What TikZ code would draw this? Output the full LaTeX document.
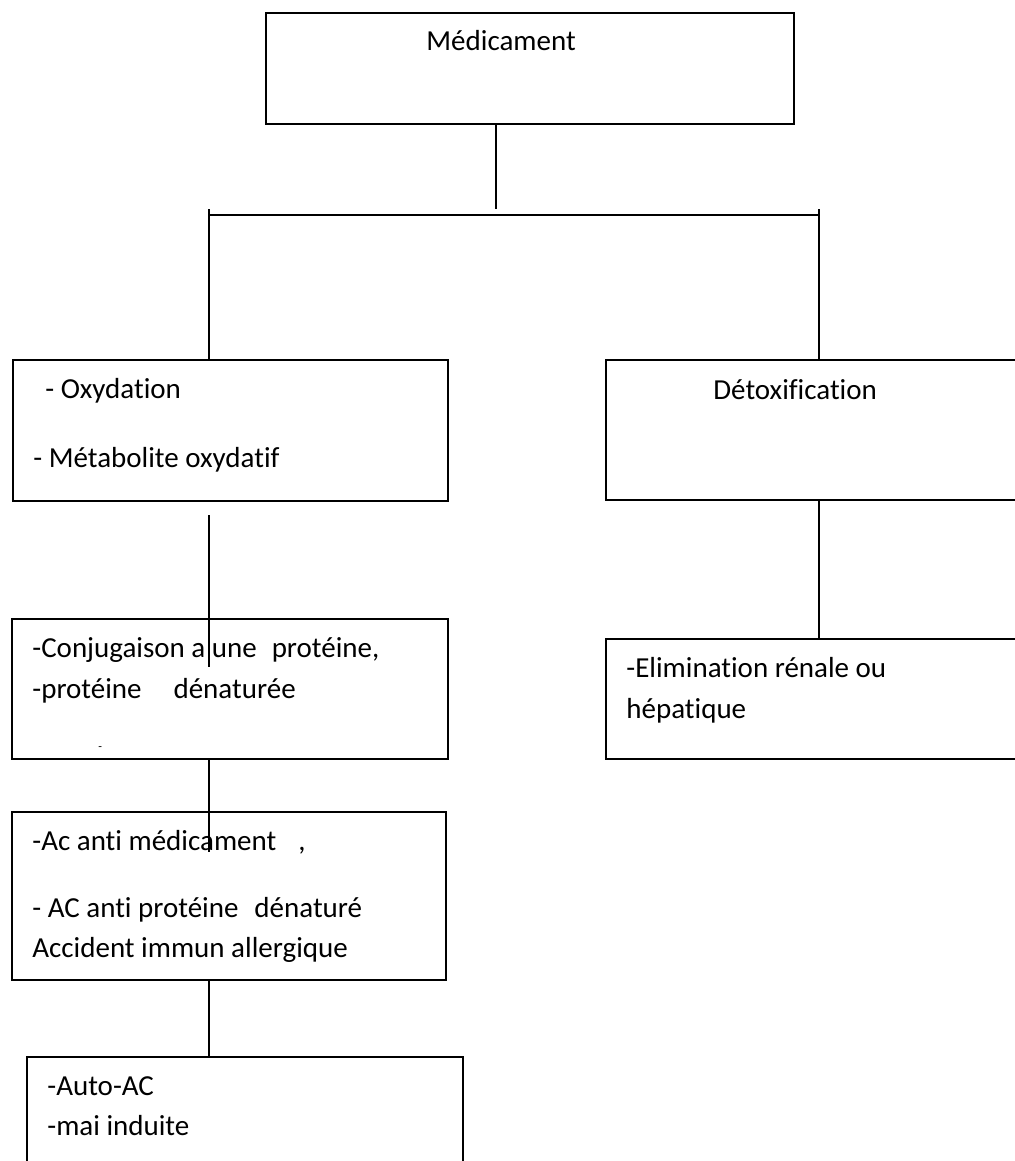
\documentclass[tikz,border=0pt]{standalone}
\usepackage{fontspec}
\setmainfont{Carlito}[Ligatures=NoCommon]
\usepackage{tikz}
\usetikzlibrary{positioning,calc}
\tikzset{
  box/.style={draw=black,line width=1.1pt,rectangle,anchor=north west,inner sep=0pt},
  txt/.style={anchor=base west,inner sep=0pt,font=\fontsize{14.5}{17}\selectfont},
  link/.style={draw=black,line width=0.8pt},
}

\begin{document}
\begin{tikzpicture}[x=0.5pt,y=-0.5pt]
  \useasboundingbox (0,0) rectangle (1015,1161);
  \clip (0,0) rectangle (1015,1161);
  % boxes
  \node[box,minimum width=264pt,minimum height=55.5pt] (med) at (265,12) {};
  \node[box,minimum width=217.5pt,minimum height=70.5pt] (oxy) at (12,359) {};
  \node[box,minimum width=215pt,minimum height=70pt] (detox) at (605,359) {};
  \node[box,minimum width=218pt,minimum height=70pt] (conj) at (11,618) {};
  \node[box,minimum width=215pt,minimum height=60pt] (elim) at (605,638) {};
  \node[box,minimum width=217pt,minimum height=84pt] (acmed) at (11,811) {};
  \node[box,minimum width=218pt,minimum height=70pt] (auto) at (26,1056) {};
  % texts
  \node[txt] (tmed) at (426,51) {Médicament};
  \node[txt] (toxy1) at (45,398) {- Oxydation};
  \node[txt] (toxy2) at (33,467) {- Métabolite oxydatif};
  \node[txt] (tdetox) at (713,399) {Détoxification};
  \node[txt] (tconj1) at (32,657) {-Conjugaison a une\hspace{7.5pt}protéine,};
  \node[txt] (tconj2) at (32,698) {-protéine\hspace{16pt}dénaturée};
  \node[txt,font=\fontsize{6}{7}\selectfont] (tdash) at (98,750) {-};
  \node[txt] (telim1) at (626,677) {-Elimination rénale ou};
  \node[txt] (telim2) at (626,718) {hépatique};
  \node[txt] (tac1) at (32,850) {-Ac anti médicament\hspace{11pt},};
  \node[txt] (tac2) at (32,917) {- AC anti protéine\hspace{8pt}dénaturé};
  \node[txt] (tac3) at (32,957) {Accident immun allergique};
  \node[txt] (tauto1) at (47,1095) {-Auto-AC};
  \node[txt] (tauto2) at (47,1135) {-mai induite};
  % branching points
  \coordinate (hub) at (496,209);
  \coordinate (barL) at (209,215);
  \coordinate (barR) at (819,215);
  \coordinate (tickL) at (209,209);
  \coordinate (tickR) at (819,209);
  \coordinate (oxyend) at (209,515);
  \coordinate (conjin) at (209,667);
  \coordinate (acin) at (209,852);
  % connectors
  \draw[link] (med.south -| hub) -- (hub);
  \draw[link,line width=1.1pt] (barL) -- (barR);
  \draw[link] (tickL) -- (oxy.north -| tickL);
  \draw[link] (tickR) -- (detox.north -| tickR);
  \draw[link] (oxyend) -- (conjin);
  \draw[link] (detox.south -| tickR) -- (elim.north -| tickR);
  \draw[link] (conj.south -| acin) -- (acin);
  \draw[link] (acmed.south -| acin) -- (auto.north -| acin);
\end{tikzpicture}
\end{document}
